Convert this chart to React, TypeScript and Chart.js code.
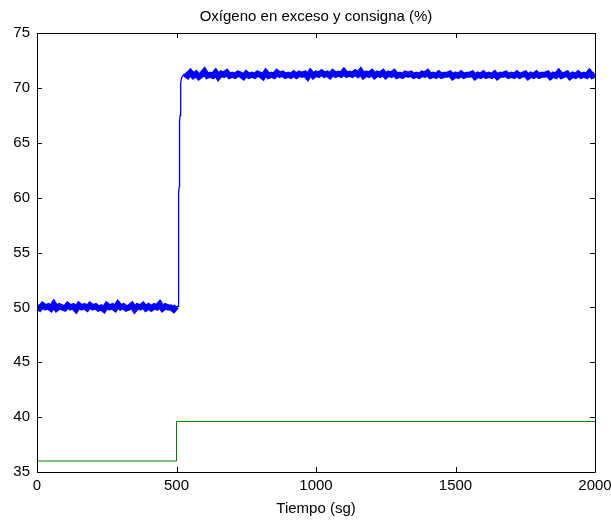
import React, { useEffect, useRef } from "react";
import { Chart, registerables } from "chart.js";

Chart.register(...registerables);

const chartTitle = "Oxígeno en exceso y consigna (%)";
const xTitle = "Tiempo (sg)";
const xTicks = [0, 500, 1000, 1500, 2000];
const yTicks = [35, 40, 45, 50, 55, 60, 65, 70, 75];

// Measured oxygen: samples every 10 s before the step (0..500 s)
const preStepStart = 0;
const sampleStep = 10;
const preStepValues = [
  50.1, 49.9, 50.2, 50.0, 50.1, 49.9, 50.3, 49.9, 50.1, 50.0,
  49.9, 50.2, 50.0, 50.1, 49.8, 50.2, 50.0, 50.1, 49.9, 50.2,
  50.0, 50.1, 49.9, 50.0, 49.8, 50.2, 50.0, 50.1, 49.9, 50.3,
  50.0, 50.1, 49.9, 50.0, 50.2, 49.8, 50.1, 50.0, 50.2, 49.9,
  50.1, 49.9, 50.1, 50.0, 50.3, 49.9, 50.1, 50.0, 50.0, 49.8,
  50.1,
];
// Transition (explicit times and values)
const transitionTimes = [500, 506, 507, 508, 510, 511, 513, 515, 518, 522, 530];
const transitionValues = [50.1, 50.1, 55.0, 60.5, 61.0, 67.0, 67.5, 70.4, 70.9, 71.1, 71.3];
// After the step: samples every 10 s from 530 to 2000 s
const postStepStart = 530;
const postStepValues = [
  71.3, 71.1, 71.4, 71.1, 71.3, 71.0, 71.2, 71.5, 71.1, 71.2,
  71.1, 71.4, 71.0, 71.3, 71.2, 71.4, 71.1, 71.2, 71.1, 71.3,
  71.2, 71.0, 71.3, 71.1, 71.2, 71.1, 71.3, 71.2, 71.0, 71.4,
  71.1, 71.2, 71.1, 71.4, 71.2, 71.3, 71.1, 71.2, 71.1, 71.3,
  71.1, 71.3, 71.2, 71.3, 71.0, 71.4, 71.1, 71.3, 71.2, 71.4,
  71.2, 71.3, 71.1, 71.4, 71.2, 71.3, 71.2, 71.5, 71.2, 71.3,
  71.2, 71.4, 71.2, 71.5, 71.1, 71.3, 71.2, 71.4, 71.1, 71.3,
  71.2, 71.4, 71.1, 71.3, 71.2, 71.4, 71.1, 71.2, 71.1, 71.3,
  71.2, 71.3, 71.1, 71.2, 71.1, 71.3, 71.2, 71.4, 71.1, 71.2,
  71.1, 71.3, 71.1, 71.2, 71.2, 71.3, 71.0, 71.2, 71.1, 71.3,
  71.1, 71.2, 71.2, 71.3, 71.0, 71.2, 71.1, 71.3, 71.1, 71.2,
  71.1, 71.3, 71.0, 71.2, 71.2, 71.3, 71.1, 71.2, 71.1, 71.3,
  71.1, 71.2, 71.3, 71.0, 71.2, 71.1, 71.3, 71.1, 71.2, 71.2,
  71.3, 71.0, 71.2, 71.1, 71.4, 71.1, 71.2, 71.3, 71.0, 71.2,
  71.1, 71.3, 71.1, 71.2, 71.1, 71.4, 71.1, 71.2,
];

// Setpoint (consigna)
const setpointTimes = [0, 500, 500, 2000];
const setpointValues = [36.0, 36.0, 39.6, 39.6];

const FONT = "'Liberation Sans', Arial, sans-serif";
const FS = 15;

const boxPlugin = {
  id: "matlabBox",
  afterDraw(chart: any) {
    const { ctx, chartArea } = chart;
    const { left, right, top, bottom } = chartArea;
    const xs = chart.scales.x;
    const ys = chart.scales.y;
    const tl = 5;
    ctx.save();
    ctx.strokeStyle = "#000";
    ctx.lineWidth = 1;
    ctx.beginPath();
    ctx.rect(Math.round(left) + 0.5, Math.round(top) + 0.5, Math.round(right - left), Math.round(bottom - top));
    xTicks.forEach((t) => {
      const px = Math.round(xs.getPixelForValue(t)) + 0.5;
      ctx.moveTo(px, bottom);
      ctx.lineTo(px, bottom - tl);
      ctx.moveTo(px, top);
      ctx.lineTo(px, top + tl);
    });
    yTicks.forEach((t) => {
      const py = Math.round(ys.getPixelForValue(t)) + 0.5;
      ctx.moveTo(left, py);
      ctx.lineTo(left + tl, py);
      ctx.moveTo(right, py);
      ctx.lineTo(right - tl, py);
    });
    ctx.stroke();
    ctx.restore();
  },
};

export default function App() {
  const ref = useRef<HTMLCanvasElement | null>(null);
  useEffect(() => {
    document.body.style.margin = "0";
    const pre = preStepValues.map((v, i) => ({ x: preStepStart + i * sampleStep, y: v }));
    const trans = transitionTimes.map((t, i) => ({ x: t, y: transitionValues[i] }));
    const post = postStepValues.map((v, i) => ({ x: postStepStart + i * sampleStep, y: v }));
    const setpoint = setpointTimes.map((t, i) => ({ x: t, y: setpointValues[i] }));

    const blue = (data: any[], width: number, label: string) => ({
      label,
      data,
      borderColor: "#0000ff",
      borderWidth: width,
      pointRadius: 0,
      tension: 0,
      borderJoinStyle: "miter",
    });

    const chart = new Chart(ref.current as HTMLCanvasElement, {
      type: "line",
      data: {
        datasets: [
          blue(pre, 6, "Oxígeno en exceso"),
          blue(trans, 1.3, "Oxígeno en exceso (transición)"),
          blue(post, 6, "Oxígeno en exceso (régimen)"),
          {
            label: "Consigna",
            data: setpoint,
            borderColor: "#008000",
            borderWidth: 1,
            pointRadius: 0,
            tension: 0,
          },
        ],
      },
      options: {
        animation: false,
        responsive: false,
        devicePixelRatio: 1,
        layout: { padding: { left: 0, right: 16, top: 0, bottom: 0 } },
        plugins: {
          legend: { display: false },
          tooltip: { enabled: false },
          title: {
            display: true,
            fullSize: false,
            text: chartTitle,
            color: "#000",
            font: { family: FONT, size: FS, weight: "normal", lineHeight: 1.2 },
            padding: { top: 8, bottom: 7 },
          },
        },
        scales: {
          x: {
            type: "linear",
            min: 0,
            max: 2000,
            afterBuildTicks: (s: any) => {
              s.ticks = xTicks.map((v) => ({ value: v }));
            },
            afterFit: (s: any) => {
              s.height = 53;
              s.paddingRight = 0;
              s.paddingLeft = 0;
            },
            grid: { display: false, drawTicks: false },
            border: { display: false },
            ticks: {
              color: "#000",
              font: { family: FONT, size: FS },
              padding: 5,
              maxRotation: 0,
              autoSkip: false,
              callback: (v: any) => String(v),
            },
            title: {
              display: true,
              text: xTitle,
              color: "#000",
              font: { family: FONT, size: FS, lineHeight: 1.2 },
              padding: { top: 4, bottom: 7 },
            },
          },
          y: {
            min: 35,
            max: 75,
            afterBuildTicks: (s: any) => {
              s.ticks = yTicks.map((v) => ({ value: v }));
            },
            afterFit: (s: any) => {
              s.width = 37;
              s.paddingTop = 0;
              s.paddingBottom = 0;
            },
            grid: { display: false, drawTicks: false },
            border: { display: false },
            ticks: {
              color: "#000",
              font: { family: FONT, size: FS },
              padding: 7,
              autoSkip: false,
              callback: (v: any) => String(v),
            },
          },
        },
      },
      plugins: [boxPlugin],
    } as any);
    return () => chart.destroy();
  }, []);
  return (
    <canvas ref={ref} width={611} height={525} style={{ display: "block", width: 611, height: 525 }} />
  );
}
